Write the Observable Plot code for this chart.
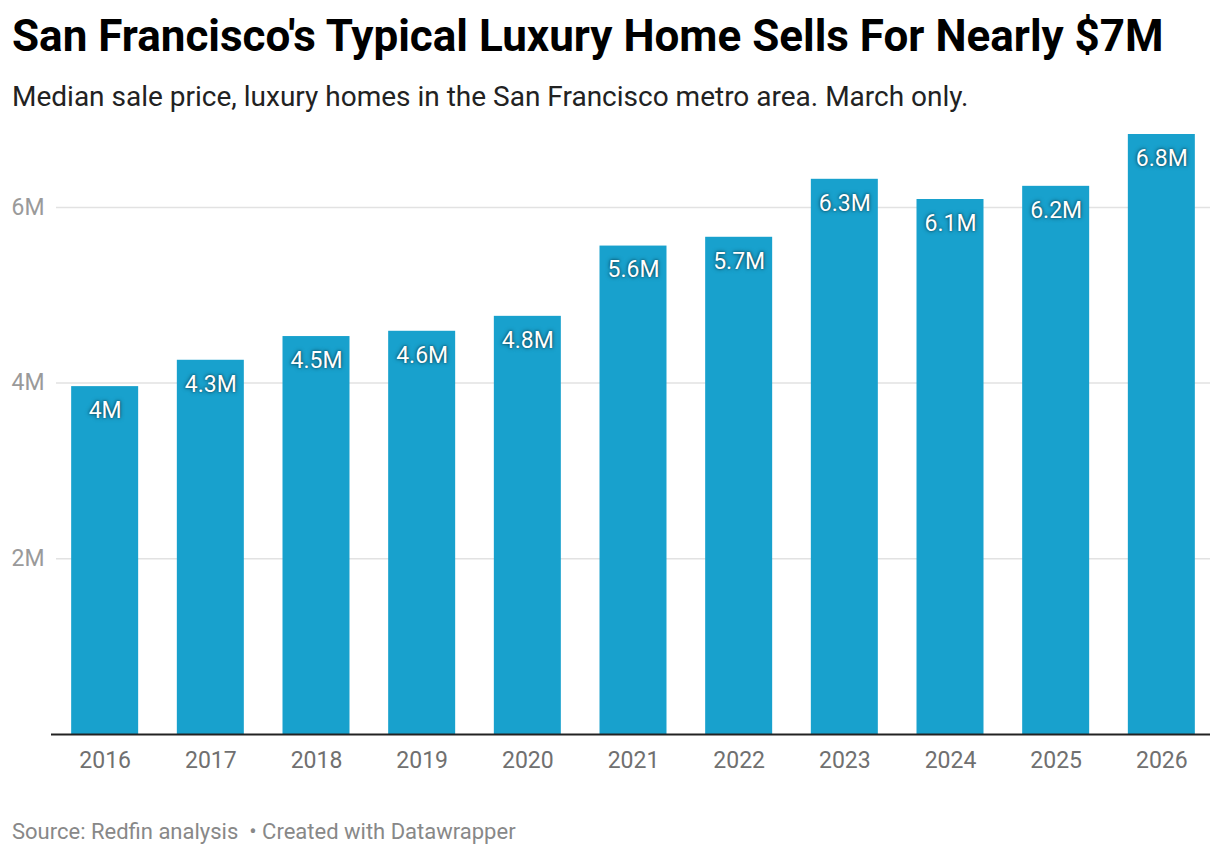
<!DOCTYPE html>
<html>
<head>
<meta charset="utf-8">
<script src="https://cdn.jsdelivr.net/npm/d3@7"></script>
<script src="https://cdn.jsdelivr.net/npm/@observablehq/plot@0.6"></script>
<style>
  html, body { margin: 0; padding: 0; background: #fff; }
  body { width: 1220px; height: 856px; position: relative; font-family: Roboto, "Noto Sans", sans-serif; overflow: hidden; }
  #title { position: absolute; left: 12px; top: 10px; font-size: 44px; font-weight: 700; color: #000; white-space: nowrap; }
  #subtitle { position: absolute; left: 12px; top: 80px; font-size: 28px; color: #222; white-space: nowrap; }
  #chart { position: absolute; left: 0; top: 120px; }
  #footer { position: absolute; left: 12px; top: 819px; font-size: 22px; color: #888; white-space: nowrap; }
  #chart g[aria-label="text"] text { text-shadow: 0 0 4px rgba(0,0,0,0.55), 0 0 2px rgba(0,0,0,0.4); }
</style>
</head>
<body>
<div id="title">San Francisco's Typical Luxury Home Sells For Nearly $7M</div>
<div id="subtitle">Median sale price, luxury homes in the San Francisco metro area. March only.</div>
<div id="chart"></div>
<div id="footer">Source: Redfin analysis &nbsp;• Created with Datawrapper</div>
<script>
const years = ["2016","2017","2018","2019","2020","2021","2022","2023","2024","2025","2026"];
const prices = [3.96, 4.26, 4.53, 4.59, 4.76, 5.56, 5.66, 6.32, 6.09, 6.24, 6.83]; // millions USD
const yTicks = [2, 4, 6];

const data = years.map((y, i) => ({year: y, price: prices[i]}));
const fmt = d => (Math.round(d * 10) / 10) + "M";

const chart = Plot.plot({
  width: 1220,
  height: 680,
  marginLeft: 56,
  marginRight: 10,
  marginTop: 14,
  marginBottom: 66,
  style: {fontFamily: "Roboto, sans-serif", background: "#fff", overflow: "visible"},
  x: {domain: years, paddingInner: 0.366, paddingOuter: 0.1435, round: false, label: null, tickSize: 0},
  y: {domain: [0, 6.83], label: null},
  marks: [
    Plot.gridY(yTicks, {stroke: "#e2e2e2", strokeOpacity: 1, strokeWidth: 1.5}),
    Plot.axisY(yTicks, {tickSize: 0, tickPadding: 12, tickFormat: d => d + "M", fill: "#9a9a9a", fontSize: 23, label: null}),
    Plot.axisX({tickSize: 0, tickPadding: 17, fill: "#707070", fontSize: 23, label: null}),
    Plot.barY(data, {x: "year", y: "price", fill: "#18a1cd"}),
    Plot.ruleY([0], {stroke: "#222", strokeWidth: 2, insetLeft: -5}),
    Plot.text(data, {x: "year", y: "price", text: d => fmt(d.price), dy: 24, fill: "#fff", fontSize: 23})
  ]
});
document.getElementById("chart").appendChild(chart);
</script>
</body>
</html>
